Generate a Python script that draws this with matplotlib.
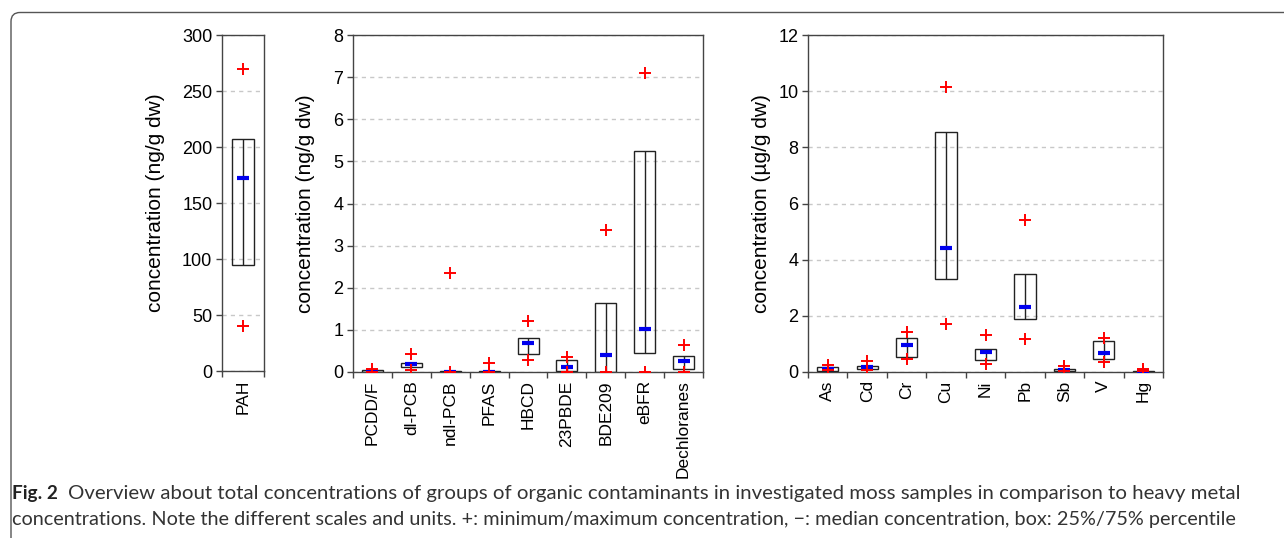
import numpy as np
import matplotlib.pyplot as plt
from matplotlib.patches import FancyBboxPatch

OUT_FILE = 'out.png'

# PAH (ng/g dw)
pah_names = ['PAH']
pah_min = [40]
pah_q1 = [95]
pah_med = [172]
pah_q3 = [207]
pah_max = [270]

# other organic groups (ng/g dw)
org_names = ['PCDD/F', 'dl-PCB', 'ndl-PCB', 'PFAS', 'HBCD', '23PBDE', 'BDE209', 'eBFR', 'Dechloranes']
org_min = [0.01, 0.04, 0.01, 0.01, 0.29, 0.0, 0.0, 0.0, 0.0]
org_q1 = [0.01, 0.12, 0.0, 0.0, 0.43, 0.02, 0.0, 0.46, 0.08]
org_med = [0.03, 0.18, 0.01, 0.01, 0.68, 0.12, 0.40, 1.03, 0.26]
org_q3 = [0.04, 0.21, 0.02, 0.02, 0.81, 0.28, 1.63, 5.25, 0.38]
org_max = [0.08, 0.42, 2.36, 0.21, 1.21, 0.36, 3.36, 7.09, 0.63]

# heavy metals (µg/g dw)
met_names = ['As', 'Cd', 'Cr', 'Cu', 'Ni', 'Pb', 'Sb', 'V', 'Hg']
met_min = [0.06, 0.06, 0.48, 1.70, 0.30, 1.19, 0.03, 0.36, 0.02]
met_q1 = [0.04, 0.12, 0.53, 3.31, 0.42, 1.88, 0.04, 0.46, 0.01]
met_med = [0.12, 0.17, 0.95, 4.42, 0.70, 2.32, 0.08, 0.68, 0.03]
met_q3 = [0.18, 0.21, 1.21, 8.55, 0.83, 3.50, 0.12, 1.12, 0.04]
met_max = [0.26, 0.39, 1.43, 10.15, 1.33, 5.43, 0.21, 1.21, 0.10]

plt.rcParams['font.family'] = ['Liberation Sans', 'DejaVu Sans']

W, H = 1284, 538
fig = plt.figure(figsize=(W / 100, H / 100), dpi=100)

# background axes in pixel units for the frame and caption
bg = fig.add_axes([0, 0, 1, 1], zorder=-1)
bg.set_xlim(0, W)
bg.set_ylim(H, 0)
bg.axis('off')
bg.add_patch(FancyBboxPatch((11, 12.5), W + 50, H + 50,
                            boxstyle='round,pad=0,rounding_size=9',
                            fill=False, edgecolor='#555555', linewidth=1))


def panel(rect, names, lo, q1, med, q3, hi, ymax, step, ylabel, pad):
    l, t, r, b = rect
    ax = fig.add_axes([l / W, 1 - b / H, (r - l) / W, (b - t) / H])
    x = np.arange(len(names))
    q1 = np.array(q1)
    q3 = np.array(q3)
    ax.bar(x, q3 - q1, bottom=q1, width=0.54, fill=False,
           edgecolor='#222222', linewidth=1, zorder=3)
    ax.vlines(x, q1, q3, color='#222222', linewidth=1, zorder=3)
    ax.plot(x, med, ls='none', marker='_', ms=8.5, mew=3, color='#0000ee', zorder=4)
    ax.plot(x, lo, ls='none', marker='+', ms=8, mew=1.4, color='#ff0000', zorder=5)
    ax.plot(x, hi, ls='none', marker='+', ms=8, mew=1.4, color='#ff0000', zorder=5)
    ax.set_xlim(-0.5, len(names) - 0.5)
    ax.set_ylim(0, ymax)
    ax.set_yticks(np.arange(0, ymax + step / 2, step))
    ax.set_xticks(np.arange(len(names) + 1) - 0.5)
    ax.set_xticklabels([])
    ax.set_xticks(x, minor=True)
    ax.set_xticklabels(names, minor=True, rotation=90, fontsize=12.5)
    ax.tick_params(axis='x', which='minor', length=0, pad=6)
    ax.tick_params(axis='both', which='major', length=4, width=1,
                   color='#444444', labelsize=13, pad=3)
    ax.yaxis.grid(True, ls=(0, (3, 3)), color='#c8c8c8', lw=1)
    ax.set_axisbelow(True)
    for s in ax.spines.values():
        s.set_color('#444444')
        s.set_linewidth(1)
    ax.set_ylabel(ylabel, fontsize=15, labelpad=pad)
    return ax


panel((222, 35, 264, 371), pah_names, pah_min, pah_q1, pah_med, pah_q3, pah_max,
      300, 50, 'concentration (ng/g dw)', 12)
panel((353, 35, 703, 372), org_names, org_min, org_q1, org_med, org_q3, org_max,
      8, 1, 'concentration (ng/g dw)', 13)
panel((808, 35, 1163, 372), met_names, met_min, met_q1, met_med, met_q3, met_max,
      12, 2, 'concentration (µg/g dw)', 5)

# caption, sized so each line ends where it does in the figure
cap_font = ['Lato', 'DejaVu Sans']
renderer = fig.canvas.get_renderer()


def fit(txt, right):
    bb = txt.get_window_extent(renderer)
    txt.set_fontsize(txt.get_fontsize() * (right - bb.x0) / bb.width)


fig_lbl = bg.text(12, 493, 'Fig. 2', fontsize=14, fontweight='bold', color='#222222',
                  family=cap_font, va='center')
fit(fig_lbl, 58)
line1 = bg.text(68, 493, 'Overview about total concentrations of groups of organic contaminants '
                'in investigated moss samples in comparison to heavy metal',
                fontsize=13, color='#333333', family=cap_font, va='center')
fit(line1, 1237)
line2 = bg.text(12, 520, 'concentrations. Note the different scales and units. +: minimum/maximum '
                'concentration, \u2212: median concentration, box: 25%/75% percentile',
                fontsize=13, color='#333333', family=cap_font, va='center')
fit(line2, 1235)

plt.savefig(OUT_FILE, dpi=100)
